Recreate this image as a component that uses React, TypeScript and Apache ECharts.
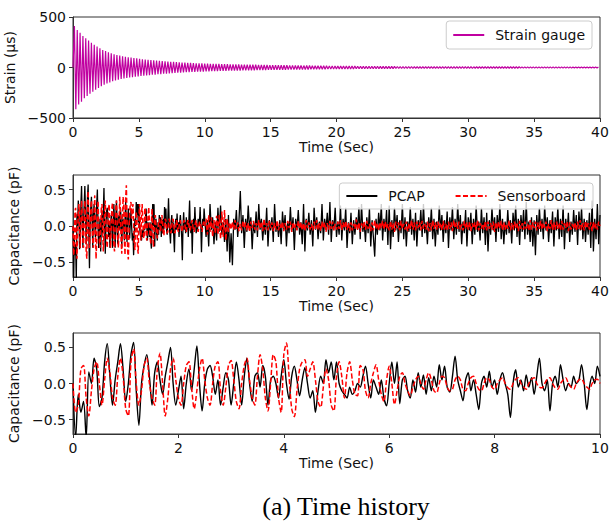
import React, { useEffect, useRef } from "react";
import * as echarts from "echarts";

// ---- Strain gauge: successive peak values (micro-strain), one every STRAIN_DT seconds ----
const STRAIN_DT = 0.1075;
const strainMicro = [
  0, 410, -414, 371, -365, 344, -338, 312, -305, 289,
  -282, 266, -260, 246, -240, 226, -221, 207, -203, 190,
  -186, 174, -170, 164, -158, 151, -147, 141, -137, 131,
  -128, 124, -120, 118, -114, 110, -108, 106, -103, 101,
  -99, 98, -95, 93, -92, 90, -88, 86, -84, 82,
  -81, 79, -78, 77, -75, 74, -72, 71, -70, 68,
  -67, 66, -65, 64, -62, 61, -60, 59, -58, 56,
  -55, 55, -54, 53, -52, 51, -50, 49, -49, 48,
  -47, 46, -46, 45, -44, 44, -43, 42, -42, 41,
  -41, 40, -40, 39, -39, 38, -38, 37, -37, 36,
  -36, 35, -35, 35, -34, 34, -34, 33, -33, 33,
  -32, 32, -32, 31, -31, 31, -30, 30, -30, 29,
  -29, 29, -29, 28, -28, 28, -27, 27, -27, 27,
  -26, 26, -26, 26, -25, 25, -25, 25, -24, 24,
  -24, 24, -24, 23, -23, 23, -23, 22, -22, 22,
  -22, 22, -21, 21, -21, 21, -21, 20, -20, 20,
  -20, 20, -20, 19, -19, 19, -19, 19, -18, 18,
  -18, 18, -18, 18, -17, 17, -17, 17, -17, 17,
  -16, 16, -16, 16, -16, 16, -15, 15, -15, 15,
  -15, 15, -15, 14, -14, 14, -14, 14, -14, 14,
  -13, 13, -13, 13, -13, 13, -13, 13, -12, 12,
  -12, 12, -12, 12, -12, 12, -12, 11, -11, 11,
  -11, 11, -11, 11, -11, 11, -11, 11, -10, 10,
  -10, 10, -10, 10, -10, 10, -10, 10, -10, 10,
  -10, 9, -9, 9, -9, 9, -9, 9, -9, 9,
  -9, 9, -9, 9, -9, 9, -9, 8, -8, 8,
  -8, 8, -8, 8, -8, 8, -8, 8, -8, 8,
  -8, 8, -8, 8, -8, 8, -8, 8, -8, 8,
  -8, 8, -8, 7, -7, 7, -7, 7, -7, 7,
  -7, 7, -7, 7, -7, 7, -7, 7, -7, 7,
  -7, 7, -7, 7, -7, 7, -7, 7, -7, 7,
  -7, 7, -7, 7, -7, 7, -6, 6, -6, 6,
  -6, 6, -6, 6, -6, 6, -6, 6, -6, 6,
  -6, 6, -6, 6, -6, 6, -6, 6, -6, 6,
  -6, 6, -6, 6, -6, 6, -6, 6, -6, 6,
  -6, 6, -6, 5, -5, 5, -5, 5, -5, 5,
  -5, 5, -5, 5, -5, 5, -5, 5, -5, 5,
  -5, 5,
];

// ---- Capacitance, in hundredths of a pF ----
// first 10 s, one value every CAP_DT_FINE seconds
const CAP_DT_FINE = 0.05;
const pcapFirst10 = [
  0, -75, -15, -40, -25, -75, 16, 0, 35, 20, -32, -20, 30, 55, 10, -30, 5, 30, 55, 20,
  -25, 0, 40, 57, -10, -58, 0, 25, 40, 10, -30, 15, 30, 5, -15, 10, 30, 50, 0, -30,
  -10, 10, -35, 0, 20, -10, 20, 52, 0, -38, 0, 20, 25, 10, -15, 5, -30, -5, 15, 5,
  -30, 0, 30, 5, -30, 10, 35, 0, -25, 10, 15, -5, 25, 10, -30, 5, 10, 0, -20, 10,
  33, 0, -22, 10, 24, 5, -17, 5, 22, 0, -20, -10, -40, -10, 10, 0, 33, 15, 30, 5,
  30, 0, -10, -15, -20, -5, -15, -10, 0, -5, 10, 24, 0, -20, 5, -5, -15, 5, -20, -31,
  0, 30, 0, 30, -28, 5, 10, -10, -20, 5, -12, 15, -5, 12, -15, 8, -10, 10, -5, 26,
  5, 24, -5, -12, 10, 38, 5, -10, -24, 5, 15, -10, 5, -15, -36, 0, 10, -5, 17, -5,
  5, -15, 5, 15, 0, -15, -47, 0, 19, -5, 5, -10, 12, -5, 8, -15, 10, 35, 0, -10,
  5, -38, 0, 10, -5, 26, 5, -10, 0, -5, 10, 0, 5, 26, 0, -36, -5, 10, 0, 24,
  10,
];
const sensorFirst10 = [
  0, -40, -30, 20, 25, -20, -45, -10, 20, 30, 0, -30, 5, 35, 15, -20, -30, 10, 35, 10,
  -35, -45, 30, 48, 0, -30, -10, 25, 35, 0, -20, -30, 20, 42, 0, -45, -20, 20, 35, 5,
  -20, -30, 0, 25, 30, -5, -35, -10, 20, 35, 5, -20, -30, 0, 25, 30, -10, -30, -5, 25,
  32, 5, -25, -35, 0, 25, 35, 5, -20, -30, 10, 40, 20, -20, -38, 0, 40, 30, -20, -40,
  40, 56, 10, -35, -46, -10, 20, 30, 33, 10, 20, 30, 5, -25, -33, -5, 20, 5, -30, -38,
  10, 30, 10, -20, 15, 30, 5, -15, -17, 25, 20, -10, -20, 0, 15, 26, 5, -15, -25, 5,
  24, 0, -29, -10, 10, 15, 0, -10, -17, -5, 5, 10, 0, -8, 5, 15, 5, -10, -13, 0,
  10, 8, -5, -10, -8, 5, 10, 5, -8, -10, 0, 8, 10, 0, -8, -10, 0, 8, 5, -5,
  -8, 0, 5, 8, 0, -6, -8, 0, 6, 8, 0, -5, -8, 0, 6, 8, 0, -5, -6, 0,
  6, 8, 0, -6, -8, 0, 5, 8, 0, -5, -8, 0, 5, 6, 0, -5, -8, 0, 5, 6,
  0,
];
// 10.1 s .. 40 s, one value every CAP_DT_COARSE seconds
const CAP_DT_COARSE = 0.1;
const CAP_REST_START = 10.1;
const pcapRest = [
  -15, 8, -28, 30, -5, 12, -25, 5, -20, 25,
  -8, 28, -12, 5, -22, 10, -35, 15, -50, -10,
  -54, 10, -5, 22, -15, 8, 48, -10, 15, -30,
  10, -8, 28, -5, 12, -32, 5, -10, 20, -15,
  30, -5, 10, -20, 5, -12, 25, -28, 8, -6,
  12, -22, 30, -8, 5, -15, 8, -25, 20, -5,
  15, -28, 6, -10, 26, -8, 12, -33, 10, -5,
  22, -12, 5, -25, 30, -35, 10, -6, 18, -12,
  8, -28, 25, -5, 12, -18, 6, -10, 30, -20,
  10, -5, 18, -12, 33, -22, 8, -5, 25, -15,
  6, -12, 28, -20, 10, -6, 25, -30, 5, -10,
  18, -25, 8, -12, 12, -5, 26, -18, 30, -8,
  5, -22, 12, -10, 24, -28, 8, -15, -42, 10,
  -12, 18, -6, 30, -20, 10, -8, 22, -26, 28,
  -32, 8, -15, 25, -6, 15, -22, 8, -10, 30,
  -18, 12, -28, 6, -8, 26, -12, 10, -20, 18,
  -28, 8, -6, 22, -15, 30, -10, 5, -25, 12,
  -8, 25, -18, 10, -28, 6, -12, 28, -6, 15,
  -22, 8, -10, 20, -30, 12, -6, 26, -18, 10,
  -12, 30, -8, 15, -25, 6, -10, 22, -28, 12,
  -6, 18, -25, 10, -12, 28, -8, 6, -20, 25,
  -10, 12, -26, 18, -35, 8, -12, 25, -6, 12,
  -22, 15, -8, 30, -18, 10, -25, 6, -12, 22,
  -10, 8, -24, 18, -6, 28, -15, 10, -26, 15,
  -8, 22, -18, 33, -12, 6, -22, 12, -28, 8,
  -40, 15, -12, 25, -8, 10, -18, 28, -6, 12,
  -22, 8, -10, 20, -28, 12, -6, 25, -18, 10,
  -15, 28, -32, 10, -10, 18, -22, 6, -12, 22,
  -8, 15, -26, 20, -6, 25, -18, 10, -22, 8,
  -12, 18, -30, 35, -35, 10, -18, 30, -25, 15,
];
const sensorRest = [
  10, -12, 15, -8, 12, -15, 8, -10, 14, -12,
  15, -18, 20, -15, 22, -20, 10, -8, 5, -5,
  6, -5, 8, -4, 5, -7, 3, -6, 7, -3,
  5, -6, 4, -8, 6, -3, 7, -5, 4, -6,
  8, -4, 6, -7, 10, -5, 4, -6, 7, -3,
  5, -7, 4, -5, 8, -6, 3, -4, 6, -7,
  4, -5, 7, -3, 6, -8, 5, -4, 3, -6,
  7, -4, 5, -6, 4, -7, 8, -3, 5, -5,
  3, -6, 6, -4, 8, -5, 4, -7, 6, -3,
  5, -8, 4, -5, 7, -4, 6, -6, 3, -5,
  6, -4, 8, -6, 5, -3, 7, -5, 4, -7,
  5, -6, 3, -4, 9, -6, 5, -8, 4, -3,
  6, -5, 7, -4, 3, -7, 5, -6, 8, -4,
  4, -6, 5, -3, 7, -5, 6, -4, 3, -6,
  7, -5, 4, -8, 6, -3, 5, -6, 7, -4,
  3, -5, 6, -7, 4, -4, 8, -5, 5, -6,
  6, -3, 5, -6, 7, -4, 3, -5, 6, -7,
  4, -6, 8, -4, 5, -5, 6, -3, 4, -6,
  7, -5, 3, -6, 6, -4, 5, -7, 8, -3,
  5, -4, 6, -5, 3, -6, 7, -4, 5, -5,
  6, -7, 4, -3, 5, -5, 8, -6, 4, -4,
  3, -5, 7, -6, 6, -4, 4, -5, 6, -8,
  5, -4, 6, -3, 7, -6, 5, -5, 3, -4,
  8, -6, 4, -5, 6, -3, 5, -7, 7, -4,
  4, -5, 6, -4, 3, -6, 8, -5, 5, -3,
  6, -6, 5, -4, 7, -5, 4, -3, 6, -7,
  3, -4, 8, -6, 5, -5, 6, -4, 4, -6,
  7, -5, 4, -3, 6, -7, 5, -5, 3, -4,
  5, -6, 6, -4, 8, -5, 4, -6, 7, -3,
  4, -5, 5, -7, 6, -4, 3, -5, 6, 0,
];

const capTicks = [-0.5, 0, 0.5];
const strainTicks = [-500, 0, 500];

const FONT = "DejaVu Sans";
const MAGENTA = "#c000a0";

function pairs(vals: number[], dt: number, t0: number, scale: number) {
  return vals.map((v, i) => [Number((t0 + i * dt).toFixed(4)), v * scale]);
}

const minus = (s: string) => s.replace("-", "\u2212");

function xAxis(grid: number, max: number, interval: number) {
  return {
    type: "value",
    gridIndex: grid,
    min: 0,
    max,
    interval,
    name: "Time (Sec)",
    nameLocation: "middle",
    nameGap: 22,
    nameTextStyle: { fontFamily: FONT, fontSize: 14, color: "#111" },
    axisLine: { show: true, onZero: false, lineStyle: { color: "#333", width: 1 } },
    axisTick: { show: true, length: 4, lineStyle: { color: "#333" } },
    axisLabel: { margin: 7, fontFamily: FONT, fontSize: 14, color: "#111" },
    splitLine: { show: false },
  };
}

function capYAxis(grid: number) {
  return {
    type: "value",
    gridIndex: grid,
    min: -0.7,
    max: 0.7,
    name: "Capacitance (pF)",
    nameLocation: "middle",
    nameGap: 44,
    nameTextStyle: { fontFamily: FONT, fontSize: 14, color: "#111" },
    axisLine: { show: true, onZero: false, lineStyle: { color: "#333", width: 1 } },
    axisTick: { show: true, length: 4, lineStyle: { color: "#333" }, customValues: capTicks },
    axisLabel: {
      margin: 7,
      fontFamily: FONT,
      fontSize: 14,
      color: "#111",
      customValues: capTicks,
      formatter: (v: number) => minus(v.toFixed(1)),
    },
    splitLine: { show: false },
  };
}

const legendBase = {
  orient: "horizontal",
  backgroundColor: "rgba(255,255,255,0.8)",
  borderColor: "#cccccc",
  borderWidth: 1,
  borderRadius: 3,
  itemWidth: 31,
  itemHeight: 14,
  itemStyle: { opacity: 0 },
  textStyle: { fontFamily: FONT, fontSize: 14, color: "#111", padding: [0, 0, 0, 6] },
};

const gridBase = { left: 73, width: 527, show: true, borderColor: "#333", borderWidth: 1, outerBoundsMode: "none", containLabel: false };

export default function App() {
  const ref = useRef<HTMLDivElement>(null);
  useEffect(() => {
    if (!ref.current) return;
    const chart = echarts.init(ref.current, undefined, { renderer: "svg" });
    const strainData = pairs(strainMicro, STRAIN_DT, 0, 1);
    const pcapFine = pairs(pcapFirst10, CAP_DT_FINE, 0, 0.01);
    const sensorFine = pairs(sensorFirst10, CAP_DT_FINE, 0, 0.01);
    const pcapAll = pcapFine.concat(pairs(pcapRest, CAP_DT_COARSE, CAP_REST_START, 0.01));
    const sensorAll = sensorFine.concat(pairs(sensorRest, CAP_DT_COARSE, CAP_REST_START, 0.01));

    const lineCommon = { type: "line", showSymbol: false, symbol: "none", clip: true };
    const blackStyle = { color: "#000", width: 1.4 };
    const redStyle = { color: "#ff0000", width: 1.5, type: [5, 2.4] };

    chart.setOption({
      animation: false,
      backgroundColor: "#fff",
      grid: [
        { ...gridBase, top: 17, height: 101 },
        { ...gridBase, top: 175, height: 102 },
        { ...gridBase, top: 333, height: 101 },
      ],
      xAxis: [xAxis(0, 40, 5), xAxis(1, 40, 5), xAxis(2, 10, 2)],
      yAxis: [
        {
          type: "value",
          gridIndex: 0,
          min: -500,
          max: 500,
          interval: 500,
          name: "Strain (\u03bcs)",
          nameLocation: "middle",
          nameGap: 52,
          nameTextStyle: { fontFamily: FONT, fontSize: 14, color: "#111" },
          axisLine: { show: true, onZero: false, lineStyle: { color: "#333", width: 1 } },
          axisTick: { show: true, length: 4, lineStyle: { color: "#333" }, customValues: strainTicks },
          axisLabel: {
            margin: 7,
            fontFamily: FONT,
            fontSize: 14,
            color: "#111",
            customValues: strainTicks,
            formatter: (v: number) => minus(String(v)),
          },
          splitLine: { show: false },
        },
        capYAxis(1),
        capYAxis(2),
      ],
      legend: [
        { ...legendBase, data: ["Strain gauge"], right: 17, top: 21, padding: [7, 7, 7, 6] },
        { ...legendBase, data: ["PCAP", "Sensorboard"], right: 16, top: 183, itemGap: 30, padding: [6, 7, 6, 6] },
      ],
      series: [
        {
          ...lineCommon,
          name: "Strain gauge",
          xAxisIndex: 0,
          yAxisIndex: 0,
          data: strainData,
          color: MAGENTA,
          lineStyle: { color: MAGENTA, width: 1.2 },
        },
        { ...lineCommon, name: "PCAP", xAxisIndex: 1, yAxisIndex: 1, data: pcapAll, color: "#000", lineStyle: { ...blackStyle, width: 1.3 } },
        { ...lineCommon, name: "Sensorboard", xAxisIndex: 1, yAxisIndex: 1, data: sensorAll, color: "#ff0000", lineStyle: redStyle },
        { ...lineCommon, name: "PCAP", xAxisIndex: 2, yAxisIndex: 2, data: pcapFine, smooth: 0.3, color: "#000", lineStyle: blackStyle },
        { ...lineCommon, name: "Sensorboard", xAxisIndex: 2, yAxisIndex: 2, data: sensorFine, smooth: 0.3, color: "#ff0000", lineStyle: redStyle },
      ],
      graphic: [
        {
          type: "text",
          x: 346,
          y: 506,
          style: {
            text: "(a) Time history",
            fontFamily: "Liberation Serif",
            fontSize: 26,
            fill: "#000",
            align: "center",
            verticalAlign: "middle",
          },
        },
      ],
    });
    return () => chart.dispose();
  }, []);
  return <div ref={ref} style={{ position: "absolute", left: 0, top: 0, width: 609, height: 521 }} />;
}
